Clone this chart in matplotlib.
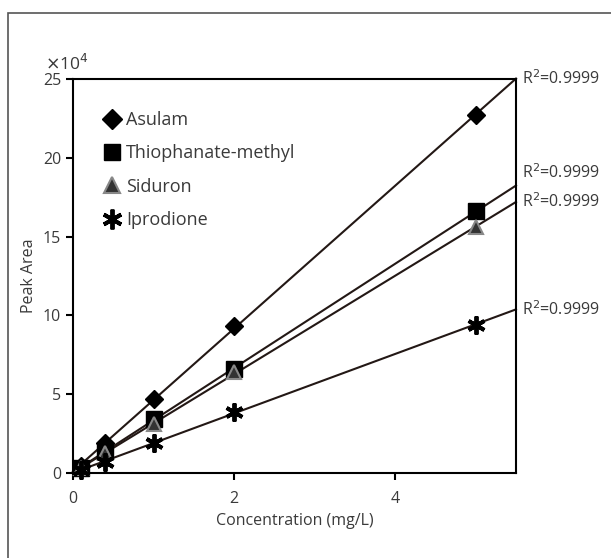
import numpy as np
import matplotlib
matplotlib.use("Agg")
import matplotlib.pyplot as plt
from matplotlib.patches import Rectangle

matplotlib.rcParams['font.family'] = ['Open Sans', 'DejaVu Sans']

# concentrations (mg/L)
conc = [0.1, 0.4, 1.0, 2.0, 5.0]

# peak areas (x10^4)
asulam = [0.45, 1.9, 4.7, 9.3, 22.7]
thiophanate = [0.35, 1.4, 3.4, 6.6, 16.6]
siduron = [0.3, 1.3, 3.1, 6.4, 15.6]
iprodione = [0.2, 0.7, 1.9, 3.9, 9.4]

names = ["Asulam", "Thiophanate-methyl", "Siduron", "Iprodione"]
r2 = ["0.9999", "0.9999", "0.9999", "0.9999"]
r2_shift = [0, 9, 0, 0]   # points, to keep the two close labels apart

TXT = "#3a3a3a"
LINE = "#231815"

fig = plt.figure(figsize=(6.11, 5.58), dpi=100)
ax = fig.add_axes([0.1195, 0.1523, 0.725, 0.7061])

# outer frame of the figure panel
fig.patches.append(Rectangle((8 / 611, -0.1), 1.2, 1 - 13 / 558 + 0.1,
                             transform=fig.transFigure, fill=False,
                             edgecolor="#555555", lw=1.2))

styles = [
    dict(marker="D", ms=9, mfc="black", mec="black"),
    dict(marker="s", ms=11, mfc="black", mec="black"),
    dict(marker="^", ms=10, mfc="#333333", mec="#888888", mew=1.5),
    dict(marker=(6, 2, 0), ms=13, mfc="black", mec="black", mew=2.8),
]

xfit = np.array([0.0, 5.5])
handles = []
for vals, name, st, r, dy in zip([asulam, thiophanate, siduron, iprodione],
                                 names, styles, r2, r2_shift):
    k, b = np.polyfit(conc, vals, 1)
    yfit = k * xfit + b
    ax.plot(xfit, yfit, color=LINE, lw=1.5, zorder=2, clip_on=False)
    h, = ax.plot(conc, vals, linestyle="none", zorder=3, clip_on=False, **st)
    handles.append(h)
    ax.annotate("R$^2$=" + r, xy=(5.5, yfit[-1]), xytext=(4, dy),
                textcoords="offset points", color=TXT, fontsize=11.5,
                ha="left", va="center", annotation_clip=False)

ax.set_xlim(0, 5.5)
ax.set_ylim(0, 25)
ax.set_xticks([0, 2, 4])
ax.set_yticks([0, 5, 10, 15, 20, 25])
ax.tick_params(direction="out", length=5, width=1.5, labelsize=11.5,
               labelcolor=TXT)
ax.tick_params(axis="x", pad=8)
for s in ax.spines.values():
    s.set_linewidth(1.5)
    s.set_color("black")

ax.set_xlabel("Concentration (mg/L)", fontsize=11.5, color=TXT, labelpad=4)
ax.set_ylabel("Peak Area", fontsize=11.5, color=TXT, labelpad=4)
ax.text(-0.014, 1.012, "$\\times$10$^4$", transform=ax.transAxes, fontsize=12.5,
        color=TXT, ha="center", va="bottom")

leg = ax.legend(handles, names, loc="upper left", bbox_to_anchor=(0.03, 0.96),
                frameon=False, fontsize=13, labelspacing=0.85,
                handlelength=1.0, handletextpad=0.3, borderaxespad=0.5,
                markerscale=1.1)
for t in leg.get_texts():
    t.set_color(TXT)

fig.savefig("out.png", dpi=100)
plt.close()
